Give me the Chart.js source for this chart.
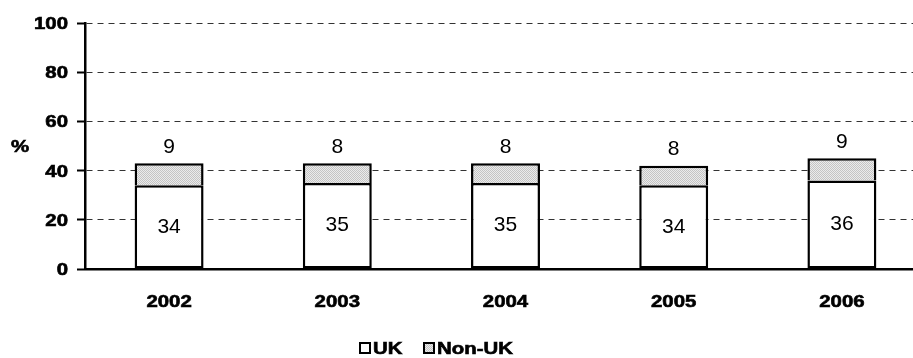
<!DOCTYPE html>
<html>
<head>
<meta charset="utf-8">
<script src="https://cdn.jsdelivr.net/npm/chart.js@4/dist/chart.umd.min.js"></script>
<style>
  html, body { margin: 0; padding: 0; background: #fff; overflow: hidden; }
  #wrap { position: relative; width: 913px; height: 358px; overflow: hidden; }
  #chart { position: absolute; left: 0; top: 0; }
</style>
</head>
<body>
<div id="wrap">
  <canvas id="chart" width="926" height="358"></canvas>
</div>
<script>
// ============================================
// DATA
// ============================================
const years = ['2002', '2003', '2004', '2005', '2006'];
const ukValues = [34, 35, 35, 34, 36];
const nonUkValues = [9, 8, 8, 8, 9];
const yTicks = [0, 20, 40, 60, 80, 100];

// bold captions are drawn slightly widened
const BOLD_FONT = 'bold 17px "Liberation Sans", Arial, sans-serif';
const STRETCH_X = 1.2;

function stretchedText(ctx, text, x, y, align) {
    ctx.save();
    ctx.translate(x, y);
    ctx.scale(STRETCH_X, 1);
    ctx.textAlign = align;
    ctx.lineWidth = 0.6;
    ctx.strokeStyle = '#000';
    ctx.strokeText(text, 0, 0);
    ctx.fillText(text, 0, 0);
    ctx.restore();
}

// stippled grey fill for the Non-UK segments
function makeStipple() {
    const c = document.createElement('canvas');
    c.width = 2; c.height = 2;
    const g = c.getContext('2d');
    g.fillStyle = '#ebebeb';
    g.fillRect(0, 0, 2, 2);
    g.fillStyle = '#c4c4c4';
    g.fillRect(0, 0, 1, 1);
    g.fillRect(1, 1, 1, 1);
    return g.createPattern(c, 'repeat');
}

// value labels: inside the UK segment, above the Non-UK segment
const valueLabels = {
    id: 'valueLabels',
    afterDatasetsDraw(chart) {
        const ctx = chart.ctx;
        ctx.save();
        ctx.fillStyle = '#000';
        ctx.textAlign = 'center';
        ctx.textBaseline = 'middle';
        ctx.font = '21px "Liberation Sans", Arial, sans-serif';

        chart.getDatasetMeta(0).data.forEach((bar, i) => {
            ctx.fillText(String(ukValues[i]), bar.x, (bar.y + bar.base) / 2);
        });
        chart.getDatasetMeta(1).data.forEach((bar, i) => {
            ctx.fillText(String(nonUkValues[i]), bar.x, bar.y - 16);
        });
        ctx.restore();
    }
};

// axis labels, "%" caption and the legend row
const axisText = {
    id: 'axisText',
    afterDraw(chart) {
        const ctx = chart.ctx;
        const xScale = chart.scales.x;
        const yScale = chart.scales.y;
        ctx.save();
        ctx.fillStyle = '#000';
        ctx.font = BOLD_FONT;
        ctx.textBaseline = 'alphabetic';

        yTicks.forEach(v => {
            stretchedText(ctx, String(v), 68, yScale.getPixelForValue(v) + 6, 'right');
        });
        years.forEach((yr, i) => {
            stretchedText(ctx, yr, xScale.getPixelForValue(i), 307, 'center');
        });
        stretchedText(ctx, '%', 11, yScale.getPixelForValue(50) + 6, 'left');

        // legend
        const legendX = [359, 423];
        chart.data.datasets.forEach((ds, i) => {
            const bx = legendX[i];
            ctx.fillStyle = ds.backgroundColor;
            ctx.fillRect(bx, 342, 12, 12);
            ctx.strokeStyle = '#000';
            ctx.lineWidth = 2;
            ctx.strokeRect(bx + 1, 343, 10, 10);
            ctx.fillStyle = '#000';
            stretchedText(ctx, ds.label, bx + 14, 354, 'left');
        });
        ctx.restore();
    }
};

const ctx = document.getElementById('chart');
new Chart(ctx, {
    type: 'bar',
    data: {
        labels: years,
        datasets: [
            {
                label: 'UK',
                data: ukValues,
                backgroundColor: '#fff',
                borderColor: '#000',
                borderWidth: 2.5,
                borderSkipped: false
            },
            {
                label: 'Non-UK',
                data: nonUkValues,
                backgroundColor: makeStipple(),
                borderColor: '#000',
                borderWidth: 2.5,
                borderSkipped: 'bottom'
            }
        ]
    },
    options: {
        responsive: false,
        animation: false,
        events: [],
        datasets: { bar: { categoryPercentage: 1, barPercentage: 0.41 } },
        layout: { padding: { top: 23, left: 0, right: 0, bottom: 0 } },
        plugins: {
            legend: { display: false },
            tooltip: { enabled: false }
        },
        scales: {
            x: {
                stacked: true,
                afterFit: s => { s.height = 89; },
                grid: { display: false, drawTicks: false },
                border: { display: true, color: '#000', width: 2.5 },
                ticks: { display: false }
            },
            y: {
                stacked: true,
                min: 0,
                max: 100,
                afterFit: s => { s.width = 85; },
                afterBuildTicks: s => { s.ticks = yTicks.map(v => ({ value: v })); },
                grid: {
                    color: '#333',
                    lineWidth: 1,
                    tickLength: 8,
                    tickColor: '#000',
                    tickWidth: 2,
                    tickBorderDash: []
                },
                border: { display: true, color: '#000', width: 2.5, dash: [6, 5] },
                ticks: { display: false }
            }
        }
    },
    plugins: [valueLabels, axisText]
});
</script>
</body>
</html>
